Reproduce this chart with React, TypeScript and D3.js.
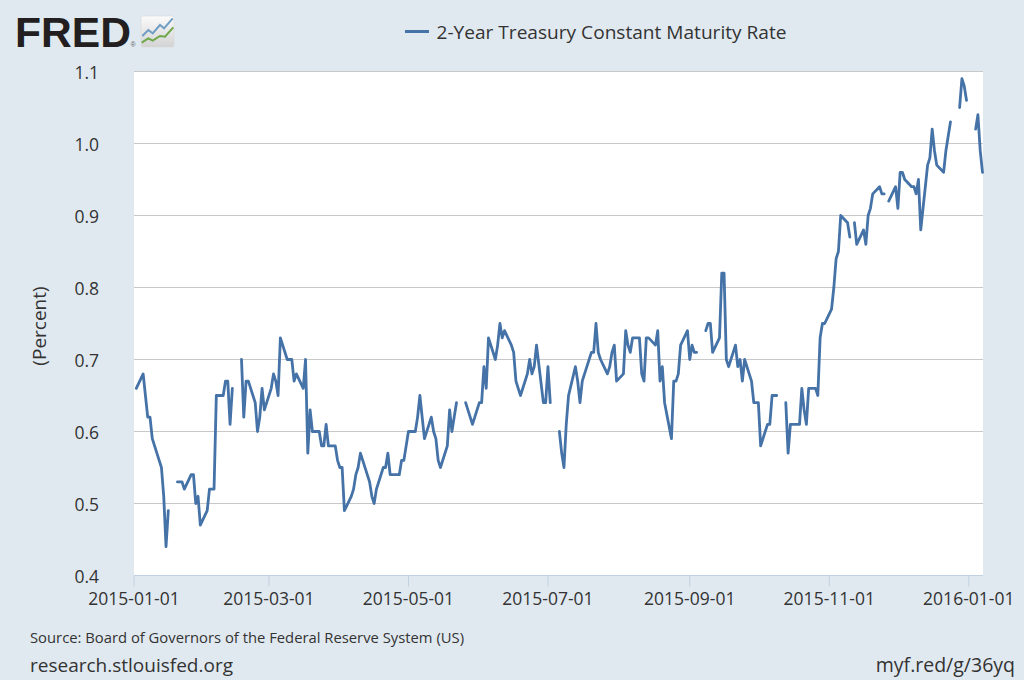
import React from "react";
import * as d3 from "d3";

type Obs = [number, number | null];

// 2-Year Treasury Constant Maturity Rate (percent), [day of month, value]; null = no observation
const jan2015: Obs[] = [[2,0.66],[5,0.68],[6,0.65],[7,0.62],[8,0.62],[9,0.59],[12,0.56],[13,0.55],[14,0.51],[15,0.44],[16,0.49],[19,null],[20,0.53],[21,0.53],[22,0.53],[23,0.52],[26,0.54],[27,0.54],[28,0.50],[29,0.51],[30,0.47]];
const feb2015: Obs[] = [[2,0.49],[3,0.52],[4,0.52],[5,0.52],[6,0.65],[9,0.65],[10,0.67],[11,0.67],[12,0.61],[13,0.66],[16,null],[17,0.70],[18,0.62],[19,0.67],[20,0.67],[23,0.64],[24,0.60],[25,0.62],[26,0.66],[27,0.63]];
const mar2015: Obs[] = [[2,0.66],[3,0.68],[4,0.67],[5,0.65],[6,0.73],[9,0.70],[10,0.70],[11,0.70],[12,0.67],[13,0.68],[16,0.66],[17,0.70],[18,0.57],[19,0.63],[20,0.60],[23,0.60],[24,0.58],[25,0.58],[26,0.61],[27,0.58],[30,0.58],[31,0.56]];
const apr2015: Obs[] = [[1,0.55],[2,0.55],[3,0.49],[6,0.51],[7,0.52],[8,0.54],[9,0.55],[10,0.57],[13,0.54],[14,0.53],[15,0.51],[16,0.50],[17,0.52],[20,0.55],[21,0.55],[22,0.57],[23,0.54],[24,0.54],[27,0.54],[28,0.56],[29,0.56],[30,0.58]];
const may2015: Obs[] = [[1,0.60],[4,0.60],[5,0.62],[6,0.65],[7,0.62],[8,0.59],[11,0.62],[12,0.60],[13,0.59],[14,0.56],[15,0.55],[18,0.58],[19,0.63],[20,0.60],[21,0.62],[22,0.64],[25,null],[26,0.64],[27,0.63],[28,0.62],[29,0.61]];
const jun2015: Obs[] = [[1,0.64],[2,0.64],[3,0.69],[4,0.66],[5,0.73],[8,0.70],[9,0.72],[10,0.75],[11,0.73],[12,0.74],[15,0.72],[16,0.71],[17,0.67],[18,0.66],[19,0.65],[22,0.68],[23,0.70],[24,0.68],[25,0.69],[26,0.72],[29,0.64],[30,0.64]];
const jul2015: Obs[] = [[1,0.69],[2,0.64],[3,null],[6,0.60],[7,0.57],[8,0.55],[9,0.61],[10,0.65],[13,0.69],[14,0.67],[15,0.64],[16,0.67],[17,0.68],[20,0.71],[21,0.71],[22,0.75],[23,0.71],[24,0.70],[27,0.68],[28,0.69],[29,0.71],[30,0.72],[31,0.67]];
const aug2015: Obs[] = [[3,0.68],[4,0.74],[5,0.72],[6,0.71],[7,0.73],[10,0.73],[11,0.68],[12,0.67],[13,0.73],[14,0.73],[17,0.72],[18,0.74],[19,0.67],[20,0.69],[21,0.64],[24,0.59],[25,0.67],[26,0.67],[27,0.68],[28,0.72],[31,0.74]];
const sep2015: Obs[] = [[1,0.70],[2,0.72],[3,0.71],[4,0.71],[7,null],[8,0.74],[9,0.75],[10,0.75],[11,0.71],[14,0.73],[15,0.82],[16,0.82],[17,0.70],[18,0.69],[21,0.72],[22,0.69],[23,0.70],[24,0.67],[25,0.70],[28,0.67],[29,0.64],[30,0.64]];
const oct2015: Obs[] = [[1,0.64],[2,0.58],[5,0.61],[6,0.61],[7,0.65],[8,0.65],[9,0.65],[12,null],[13,0.64],[14,0.57],[15,0.61],[16,0.61],[19,0.61],[20,0.66],[21,0.63],[22,0.61],[23,0.66],[26,0.66],[27,0.65],[28,0.73],[29,0.75],[30,0.75]];
const nov2015: Obs[] = [[2,0.77],[3,0.80],[4,0.84],[5,0.85],[6,0.90],[9,0.89],[10,0.87],[11,null],[12,0.89],[13,0.86],[16,0.88],[17,0.86],[18,0.90],[19,0.91],[20,0.93],[23,0.94],[24,0.93],[25,0.93],[26,null],[27,0.92],[30,0.94]];
const dec2015: Obs[] = [[1,0.91],[2,0.96],[3,0.96],[4,0.95],[7,0.94],[8,0.94],[9,0.93],[10,0.95],[11,0.88],[14,0.97],[15,0.98],[16,1.02],[17,0.99],[18,0.97],[21,0.96],[22,0.99],[23,1.01],[24,1.03],[25,null],[28,1.05],[29,1.09],[30,1.08],[31,1.06]];
const jan2016: Obs[] = [[1,null],[4,1.02],[5,1.04],[6,0.99],[7,0.96]];

const months: { year: number; month: number; obs: Obs[] }[] = [
  { year: 2015, month: 0, obs: jan2015 },
  { year: 2015, month: 1, obs: feb2015 },
  { year: 2015, month: 2, obs: mar2015 },
  { year: 2015, month: 3, obs: apr2015 },
  { year: 2015, month: 4, obs: may2015 },
  { year: 2015, month: 5, obs: jun2015 },
  { year: 2015, month: 6, obs: jul2015 },
  { year: 2015, month: 7, obs: aug2015 },
  { year: 2015, month: 8, obs: sep2015 },
  { year: 2015, month: 9, obs: oct2015 },
  { year: 2015, month: 10, obs: nov2015 },
  { year: 2015, month: 11, obs: dec2015 },
  { year: 2016, month: 0, obs: jan2016 },
];

const xTickLabels = ["2015-01-01", "2015-03-01", "2015-05-01", "2015-07-01", "2015-09-01", "2015-11-01", "2016-01-01"];
const yTickValues = [0.4, 0.5, 0.6, 0.7, 0.8, 0.9, 1.0, 1.1];
const xDomain = ["2015-01-01", "2016-01-07"];

const seriesTitle = "2-Year Treasury Constant Maturity Rate";
const yAxisTitle = "(Percent)";
const sourceText = "Source: Board of Governors of the Federal Reserve System (US)";
const siteText = "research.stlouisfed.org";
const shortUrl = "myf.red/g/36yq";

type Pt = { date: Date; v: number | null };

export default function App() {
  const W = 1024, H = 680;
  const left = 134, right = 983, top = 71.5, bottom = 575.5;
  const parse = d3.utcParse("%Y-%m-%d");
  const points: Pt[] = months.flatMap((m) =>
    m.obs.map(([day, v]) => ({ date: new Date(Date.UTC(m.year, m.month, day)), v }))
  );
  const x = d3.scaleUtc().domain(xDomain.map((s) => parse(s) as Date)).range([left, 982.5]);
  const y = d3.scaleLinear().domain([0.4, 1.1]).range([bottom, top]);
  const line = d3
    .line<Pt>()
    .defined((d) => d.v != null)
    .x((d) => x(d.date))
    .y((d) => y(d.v as number));
  const font = "'Open Sans', 'Noto Sans', sans-serif";
  const textColor = "#333333";

  return (
    <svg
      width={W}
      height={H}
      viewBox={`0 0 ${W} ${H}`}
      style={{ position: "absolute", left: 0, top: 0, display: "block" }}
    >
      <defs>
        <linearGradient id="iconGrad" x1="0" y1="0" x2="0" y2="1">
          <stop offset="0" stopColor="#fbfbfb" />
          <stop offset="1" stopColor="#d3d3d3" />
        </linearGradient>
      </defs>
      <rect x={0} y={0} width={W} height={H} fill="#E1E9F0" />

      {/* FRED logo */}
      <text x={15} y={46.7} fontFamily="'Liberation Sans', Arial, sans-serif" fontWeight={700} fontSize={42} fill="#231f20" textLength={116} lengthAdjust="spacingAndGlyphs">FRED</text>
      <text x={130.5} y={47} fontFamily="'Liberation Sans', Arial, sans-serif" fontSize={7} fill="#666">®</text>
      <rect x={141} y={16} width={33} height={31} rx={2} fill="url(#iconGrad)" stroke="#d8d8d8" strokeWidth={0.6} />
      <polyline points="142.3,36 148.3,30 152.7,33.3 160,25 164,28.3 172.7,18.3" fill="none" stroke="#6f9dc4" strokeWidth={2} />
      <polyline points="141.7,42.7 148.3,38.3 152.7,40.7 160,36 165,36.7 173.3,27.3" fill="none" stroke="#6ea84a" strokeWidth={2} />

      {/* legend */}
      <line x1={405} x2={429} y1={31.5} y2={31.5} stroke="#4572A7" strokeWidth={3} />
      <text x={436.5} y={39} fontFamily={font} fontSize={19} fill={textColor} textLength={350} lengthAdjust="spacingAndGlyphs">{seriesTitle}</text>

      {/* plot area */}
      <rect x={left} y={top} width={right - left} height={bottom - top} fill="#ffffff" />
      {yTickValues.filter((v) => v > 0.4).map((v) => (
        <line key={v} x1={left} x2={right} y1={y(v)} y2={y(v)} stroke="#c8c8c8" strokeWidth={1.2} />
      ))}
      <line x1={left} x2={right} y1={bottom} y2={bottom} stroke="#C0D0E0" strokeWidth={1} />
      {xTickLabels.map((s) => {
        const xx = x(parse(s) as Date);
        return (
          <g key={s}>
            <line x1={xx} x2={xx} y1={bottom} y2={bottom + 11} stroke="#C0D0E0" strokeWidth={1} />
            <text x={xx} y={605} textAnchor="middle" fontFamily={font} fontSize={17.5} fill={textColor}>{s}</text>
          </g>
        );
      })}
      {yTickValues.map((v) => (
        <text key={v} x={99} y={y(v) + 7.5} textAnchor="end" fontFamily={font} fontSize={17.5} fill={textColor}>{d3.format(".1f")(v)}</text>
      ))}
      <text transform="translate(46,326) rotate(-90)" textAnchor="middle" fontFamily={font} fontSize={19} fill={textColor}>{yAxisTitle}</text>

      {/* series */}
      <path d={line(points) || ""} fill="none" stroke="#4572A7" strokeWidth={2.8} strokeLinejoin="round" strokeLinecap="round" />

      {/* footer */}
      <text x={30} y={642.5} fontFamily={font} fontSize={14.8} fill={textColor}>{sourceText}</text>
      <text x={30} y={671.5} fontFamily={font} fontSize={19} fill={textColor}>{siteText}</text>
      <text x={1015} y={671.5} textAnchor="end" fontFamily={font} fontSize={19.5} fill={textColor}>{shortUrl}</text>
    </svg>
  );
}
